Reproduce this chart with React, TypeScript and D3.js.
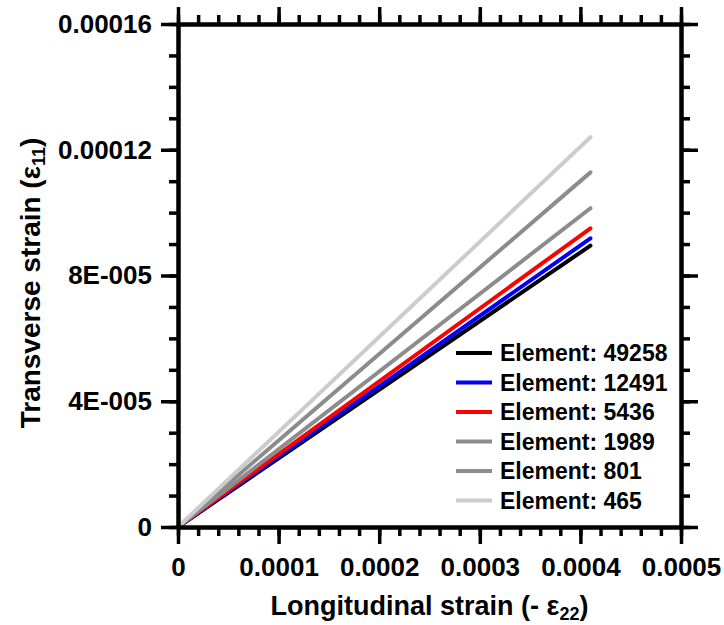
import React, { useRef, useEffect } from "react";
import * as d3 from "d3";

// mesh sizes and the end point of each straight strain line
const elements = ["49258", "12491", "5436", "1989", "801", "465"];
const colors = ["#000000", "#0000ff", "#ff0000", "#8c8c8c", "#8c8c8c", "#cccccc"];
const longStrain = [0, 0.00041];
const transEnd = [0.0000895, 0.0000918, 0.000095, 0.0001014, 0.0001128, 0.000124];

const xMajor = [0, 0.0001, 0.0002, 0.0003, 0.0004, 0.0005];
const xLabels = ["0", "0.0001", "0.0002", "0.0003", "0.0004", "0.0005"];
const yMajor = [0, 0.00004, 0.00008, 0.00012, 0.00016];
const yLabels = ["0", "4E-005", "8E-005", "0.00012", "0.00016"];

const App = () => {
  const svgRef = useRef(null);

  useEffect(() => {
    const svg = d3.select(svgRef.current);
    svg.selectAll("*").remove();

    const width = 724,
      height = 625,
      margin = { top: 24, right: 43, bottom: 98, left: 178 },
      font = "Arial, 'Liberation Sans', sans-serif";

    const x = d3.scaleLinear().domain([0, 0.0005]).range([margin.left, width - margin.right]);
    const y = d3.scaleLinear().domain([0, 0.00016]).range([height - margin.bottom, margin.top]);

    const xMinor = d3.range(0, 0.00050001, 0.00002);
    const yMinor = d3.range(0, 0.00016001, 0.00001);

    // series lines
    const line = d3.line().x((d) => x(d[0])).y((d) => y(d[1]));
    elements.forEach((el, i) => {
      const pts = longStrain.map((v) => [v, (v / longStrain[1]) * transEnd[i]]);
      svg
        .append("path")
        .attr("d", line(pts))
        .attr("fill", "none")
        .attr("stroke", colors[i])
        .attr("stroke-width", 4)
        .attr("stroke-linecap", "round");
    });

    const styleAxis = (g) => {
      g.select(".domain").attr("stroke-width", 4).attr("stroke", "#000");
      g.selectAll(".tick line").attr("stroke-width", 3.5).attr("stroke", "#000");
      g.selectAll("text")
        .attr("font-family", font)
        .attr("font-weight", "bold")
        .attr("font-size", 26)
        .attr("fill", "#000");
    };

    const bottom = height - margin.bottom;
    const right = width - margin.right;

    // minor ticks
    svg.append("g").attr("transform", `translate(0,${bottom})`)
      .call(d3.axisBottom(x).tickValues(xMinor).tickSize(9).tickSizeOuter(0).tickFormat(() => ""))
      .call(styleAxis);
    svg.append("g").attr("transform", `translate(0,${margin.top})`)
      .call(d3.axisTop(x).tickValues(xMinor).tickSize(9).tickSizeOuter(0).tickFormat(() => ""))
      .call(styleAxis);
    svg.append("g").attr("transform", `translate(${margin.left},0)`)
      .call(d3.axisLeft(y).tickValues(yMinor).tickSize(9).tickSizeOuter(0).tickFormat(() => ""))
      .call(styleAxis);
    svg.append("g").attr("transform", `translate(${right},0)`)
      .call(d3.axisRight(y).tickValues(yMinor).tickSize(9).tickSizeOuter(0).tickFormat(() => ""))
      .call(styleAxis);

    // major ticks with labels
    svg.append("g").attr("transform", `translate(0,${bottom})`)
      .call(d3.axisBottom(x).tickValues(xMajor).tickSize(17).tickPadding(14).tickSizeOuter(0)
        .tickFormat((d, i) => xLabels[i]))
      .call(styleAxis);
    svg.append("g").attr("transform", `translate(0,${margin.top})`)
      .call(d3.axisTop(x).tickValues(xMajor).tickSize(17).tickSizeOuter(0).tickFormat(() => ""))
      .call(styleAxis);
    svg.append("g").attr("transform", `translate(${margin.left},0)`)
      .call(d3.axisLeft(y).tickValues(yMajor).tickSize(17).tickPadding(9).tickSizeOuter(0)
        .tickFormat((d, i) => yLabels[i]))
      .call(styleAxis);
    svg.append("g").attr("transform", `translate(${right},0)`)
      .call(d3.axisRight(y).tickValues(yMajor).tickSize(17).tickSizeOuter(0).tickFormat(() => ""))
      .call(styleAxis);

    // axis titles
    const xt = svg.append("text")
      .attr("x", (margin.left + right) / 2)
      .attr("y", 615)
      .attr("text-anchor", "middle")
      .attr("font-family", font)
      .attr("font-weight", "bold")
      .attr("font-size", 27);
    xt.append("tspan").text("Longitudinal strain (- ε");
    xt.append("tspan").attr("dy", 5).attr("font-size", 18).text("22");
    xt.append("tspan").attr("dy", -5).text(")");

    const yt = svg.append("text")
      .attr("transform", `translate(40,283) rotate(-90)`)
      .attr("text-anchor", "middle")
      .attr("font-family", font)
      .attr("font-weight", "bold")
      .attr("font-size", 28);
    yt.append("tspan").text("Transverse strain (ε");
    yt.append("tspan").attr("dy", 5).attr("font-size", 18).text("11");
    yt.append("tspan").attr("dy", -5).text(")");

    // legend
    const legend = svg.append("g").attr("transform", "translate(456,353)");
    elements.forEach((el, i) => {
      const row = legend.append("g").attr("transform", `translate(0,${i * 29.5})`);
      row.append("line")
        .attr("x1", 0).attr("x2", 36)
        .attr("stroke", colors[i])
        .attr("stroke-width", 4);
      row.append("text")
        .attr("x", 44)
        .attr("dy", "0.35em")
        .attr("font-family", font)
        .attr("font-weight", "bold")
        .attr("font-size", 23)
        .text(`Element: ${el}`);
    });
  }, []);

  return (
    <svg
      ref={svgRef}
      width={724}
      height={625}
      style={{ position: "absolute", left: 0, top: 0, background: "#fff" }}
    ></svg>
  );
};

export default App;
